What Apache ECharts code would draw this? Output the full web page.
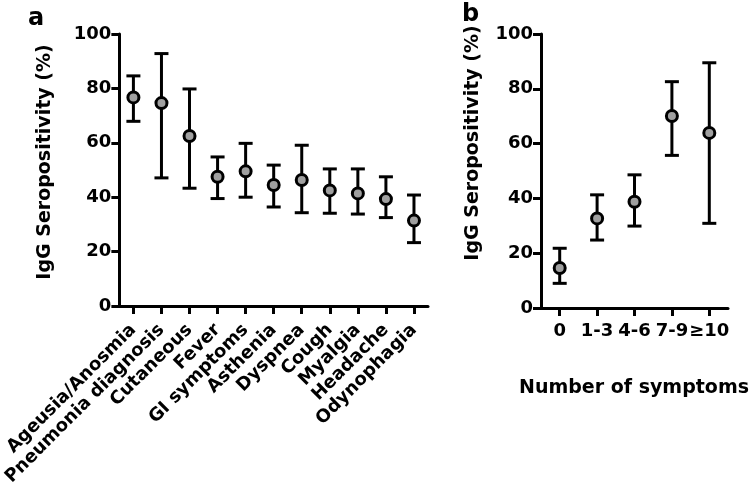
<!DOCTYPE html>
<html>
<head>
<meta charset="utf-8">
<script src="https://cdn.jsdelivr.net/npm/echarts@6.0.0/dist/echarts.min.js"></script>
<style>
html,body{margin:0;padding:0;background:#fff;}
#chart{width:749px;height:489px;}
</style>
</head>
<body>
<div id="chart"></div>
<script>
// Panel a: symptoms
var symptomCategories = ['Ageusia/Anosmia','Pneumonia diagnosis','Cutaneous','Fever','GI symptoms','Asthenia','Dyspnea','Cough','Myalgia','Headache','Odynophagia'];
var symptomValues = [76.7, 74.6, 62.5, 47.5, 49.5, 44.5, 46.3, 42.5, 41.4, 39.3, 31.4];
var symptomUpper  = [84.6, 92.8, 79.8, 54.8, 59.8, 51.8, 59.1, 50.4, 50.4, 47.5, 40.8];
var symptomLower  = [67.9, 47.1, 43.3, 39.5, 40.0, 36.4, 34.3, 34.1, 33.8, 32.5, 23.3];

// Panel b: number of symptoms
var countCategories = ['0','1-3','4-6','7-9','\u226510'];
var countValues = [14.6, 32.7, 38.8, 70.1, 63.9];
var countUpper  = [21.8, 41.3, 48.6, 82.6, 89.5];
var countLower  = [9.0, 24.8, 29.9, 55.7, 30.9];

var yTicks = [0, 20, 40, 60, 80, 100];

var FONT = 'DejaVu Sans';
var chart = echarts.init(document.getElementById('chart'), null, {renderer:'canvas'});

function errRender(params, api) {
  var x = api.value(0);
  var lo = api.coord([x, api.value(1)]);
  var hi = api.coord([x, api.value(2)]);
  var hw = 7;
  var st = {stroke:'#000', lineWidth:3, lineCap:'butt'};
  return {type:'group', children:[
    {type:'line', shape:{x1:hi[0], y1:hi[1], x2:lo[0], y2:lo[1]}, style:st},
    {type:'line', shape:{x1:hi[0]-hw, y1:hi[1], x2:hi[0]+hw, y2:hi[1]}, style:st},
    {type:'line', shape:{x1:lo[0]-hw, y1:lo[1], x2:lo[0]+hw, y2:lo[1]}, style:st}
  ]};
}

var axisLineStyle = {color:'#000', width:3};
var labelStyle = {color:'#000', fontFamily:FONT, fontWeight:'bold', fontSize:18};

function yAxisDef(idx) {
  return {
    type:'value', gridIndex:idx, min:yTicks[0], max:yTicks[yTicks.length-1], interval:20,
    axisLine:{show:true, lineStyle:axisLineStyle},
    axisTick:{show:true, length:8, lineStyle:{color:'#000', width:3}},
    axisLabel:Object.assign({margin:8}, labelStyle),
    splitLine:{show:false}
  };
}

var option = {
  animation:false,
  backgroundColor:'#fff',
  grid:[
    {left:118, top:34, width:310, height:272},
    {left:541, top:34, width:187, height:274}
  ],
  xAxis:[
    {type:'category', gridIndex:0, data:symptomCategories, boundaryGap:true,
     axisLine:{show:true, onZero:false, lineStyle:axisLineStyle},
     axisTick:{show:true, alignWithLabel:true, length:8, lineStyle:{color:'#000', width:3}},
     axisLabel:Object.assign({rotate:45, margin:21, interval:0}, labelStyle)},
    {type:'category', gridIndex:1, data:countCategories, boundaryGap:true,
     axisLine:{show:true, onZero:false, lineStyle:axisLineStyle},
     axisTick:{show:true, alignWithLabel:true, length:8, lineStyle:{color:'#000', width:3}},
     axisLabel:Object.assign({margin:14, interval:0}, labelStyle)}
  ],
  yAxis:[yAxisDef(0), yAxisDef(1)],
  graphic:[
    {type:'text', x:28, y:7, style:{text:'a', fontFamily:FONT, fontWeight:'bold', fontSize:24, fill:'#000'}},
    {type:'text', x:462, y:3, style:{text:'b', fontFamily:FONT, fontWeight:'bold', fontSize:24, fill:'#000'}},
    {type:'text', x:45, y:162, rotation:Math.PI/2,
     style:{text:'IgG Seropositivity (%)', fontFamily:FONT, fontWeight:'bold', fontSize:19, fill:'#000', textAlign:'center', textVerticalAlign:'middle'}},
    {type:'text', x:473, y:143, rotation:Math.PI/2,
     style:{text:'IgG Seropositivity (%)', fontFamily:FONT, fontWeight:'bold', fontSize:19, fill:'#000', textAlign:'center', textVerticalAlign:'middle'}},
    {type:'text', x:634, y:388,
     style:{text:'Number of symptoms', fontFamily:FONT, fontWeight:'bold', fontSize:19, fill:'#000', textAlign:'center', textVerticalAlign:'middle'}}
  ],
  series:[
    {type:'custom', xAxisIndex:0, yAxisIndex:0, renderItem:errRender, z:2,
     encode:{x:0, y:[1,2]},
     data:symptomCategories.map(function(c,i){return [i, symptomLower[i], symptomUpper[i]];})},
    {type:'scatter', xAxisIndex:0, yAxisIndex:0, z:3, symbol:'circle', symbolSize:11,
     itemStyle:{color:'#a0a0a0', borderColor:'#000', borderWidth:3, opacity:1},
     data:symptomValues},
    {type:'custom', xAxisIndex:1, yAxisIndex:1, renderItem:errRender, z:2,
     encode:{x:0, y:[1,2]},
     data:countCategories.map(function(c,i){return [i, countLower[i], countUpper[i]];})},
    {type:'scatter', xAxisIndex:1, yAxisIndex:1, z:3, symbol:'circle', symbolSize:11,
     itemStyle:{color:'#a0a0a0', borderColor:'#000', borderWidth:3, opacity:1},
     data:countValues}
  ]
};
chart.setOption(option);
</script>
</body>
</html>
